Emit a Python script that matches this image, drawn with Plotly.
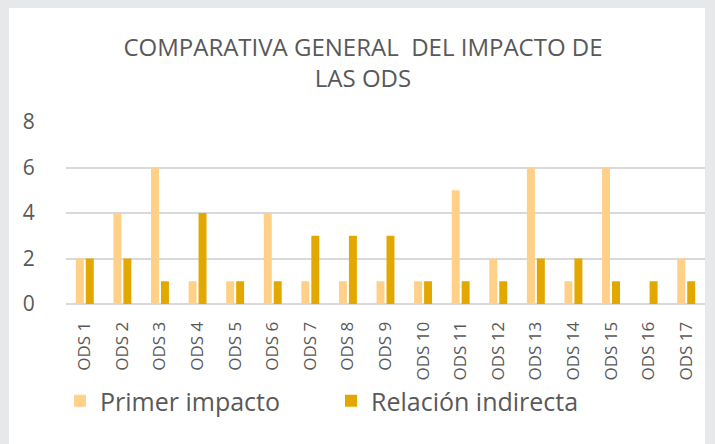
import plotly.graph_objects as go

categories = ["ODS 1", "ODS 2", "ODS 3", "ODS 4", "ODS 5", "ODS 6", "ODS 7", "ODS 8", "ODS 9",
              "ODS 10", "ODS 11", "ODS 12", "ODS 13", "ODS 14", "ODS 15", "ODS 16", "ODS 17"]
primer_impacto = [2, 4, 6, 1, 1, 4, 1, 1, 1, 1, 5, 2, 6, 1, 6, 0, 2]
relacion_indirecta = [2, 2, 1, 4, 1, 1, 3, 3, 3, 1, 1, 1, 2, 2, 1, 1, 1]
y_ticks = [0, 2, 4, 6, 8]

W, H = 715, 444
L, R, T, B = 66, 10, 122, 140
pw = W - L - R
ph = H - T - B

def px_x(p):
    return (p - L) / pw

def px_y(p):
    return (H - B - p) / ph

txt = "#595959"
font = "Open Sans"

fig = go.Figure()
fig.add_trace(go.Bar(x=categories, y=primer_impacto, name="Primer impacto",
                     marker=dict(color="#FFD088", line=dict(width=0))))
fig.add_trace(go.Bar(x=categories, y=relacion_indirecta, name="Relación indirecta",
                     marker=dict(color="#E2A800", line=dict(width=0))))

fig.update_layout(
    width=W, height=H,
    margin=dict(l=L, r=R, t=T, b=B),
    paper_bgcolor="#E7E8EA",
    plot_bgcolor="rgba(0,0,0,0)",
    barmode="group", bargap=0.47, bargroupgap=0.2,
    font=dict(family=font, color=txt),
    title=dict(text="COMPARATIVA GENERAL  DEL IMPACTO DE<br>LAS ODS",
               x=363 / W, xanchor="center", xref="container",
               y=1 - 56 / H, yanchor="middle", yref="container",
               font=dict(family=font, size=24, color=txt)),
    shapes=[dict(type="rect", xref="paper", yref="paper",
                 x0=px_x(9), x1=px_x(705), y0=px_y(444), y1=px_y(8),
                 fillcolor="white", line=dict(width=0), layer="below")],
    xaxis=dict(showgrid=False, showline=False, zeroline=False,
               tickangle=-90, ticks="outside", ticklen=10, tickcolor="rgba(0,0,0,0)",
               tickfont=dict(family=font, size=17, color=txt)),
    yaxis=dict(range=[0, 8], tickvals=y_ticks, showgrid=True, gridcolor="#D9D9D9", gridwidth=1.5,
               zeroline=True, zerolinecolor="#D9D9D9", zerolinewidth=1.5, showline=False,
               ticks="outside", ticklen=26, tickcolor="rgba(0,0,0,0)",
               tickfont=dict(family=font, size=21, color=txt)),
    legend=dict(orientation="h", x=px_x(60), xanchor="left", y=px_y(401), yanchor="middle",
                font=dict(family=font, size=25, color=txt), bgcolor="rgba(0,0,0,0)",
                entrywidth=226, traceorder="normal"),
    showlegend=True,
)

fig.write_html("out.html", config={"displayModeBar": False},
               post_script="document.body.style.margin='0';document.body.style.padding='0';")
